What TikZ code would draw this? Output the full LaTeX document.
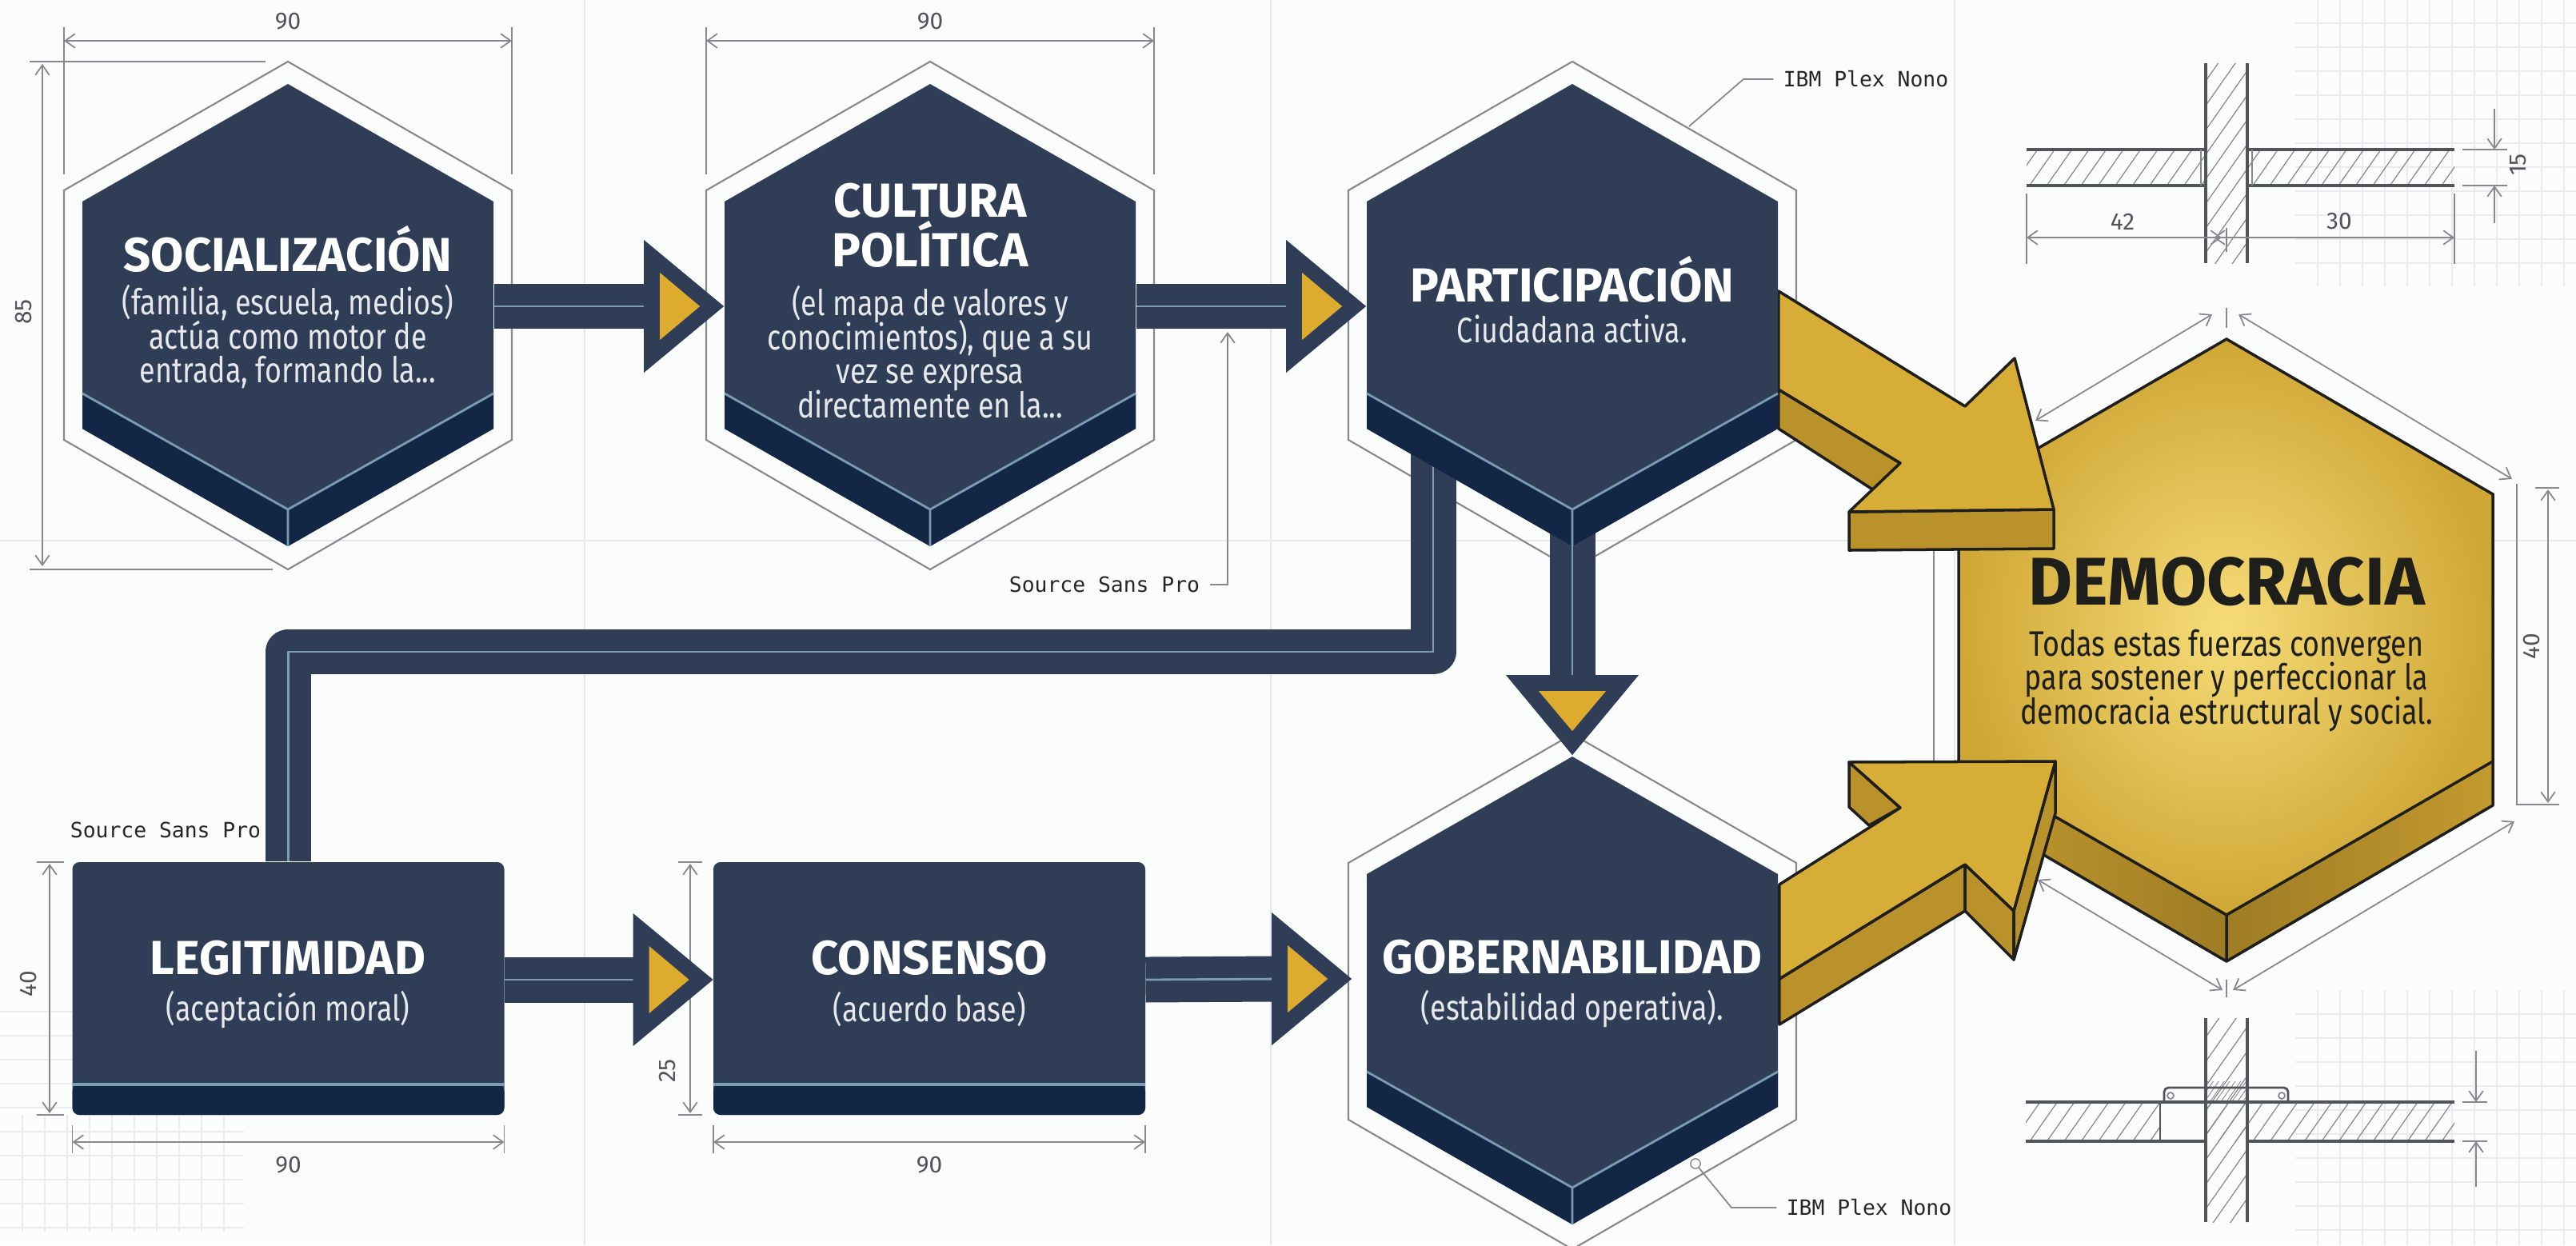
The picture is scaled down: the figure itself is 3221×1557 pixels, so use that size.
\documentclass[tikz,border=0pt]{standalone}
\usepackage{fontspec}
\setmainfont{Fira Sans}
\newfontfamily\headfont{Fira Sans}
\newfontfamily\bodyfont[FakeStretch=0.81]{Fira Sans}
\setmonofont{DejaVu Sans Mono}
\usetikzlibrary{calc,arrows.meta,patterns.meta}
\definecolor{paper}{HTML}{FBFCFC}
\definecolor{slate}{HTML}{2F3E56}
\definecolor{deepnavy}{HTML}{142645}
\definecolor{coreblue}{HTML}{7B9CB3}
\definecolor{amber}{HTML}{D6AD37}
\definecolor{amberglow}{HTML}{F6DC78}
\definecolor{amberrim}{HTML}{CFA735}
\definecolor{ambertip}{HTML}{DDAB2E}
\definecolor{amberside}{HTML}{BA922B}
\definecolor{inkline}{HTML}{1E1E1A}
\definecolor{dimgrey}{HTML}{85898D}
\definecolor{gridgrey}{HTML}{E9ECEE}
\definecolor{rulegrey}{HTML}{E6E8EA}
\definecolor{partgrey}{HTML}{50555A}
\newcommand{\tightlines}{\setlength{\lineskiplimit}{-10pt}}
\begin{document}
\begin{tikzpicture}[%
        x=0.01cm, y=-0.01cm,
        hexbox/.style={inner sep=0pt, minimum width=5.14cm, minimum height=5.56cm},
        slabbox/.style={inner sep=0pt, minimum width=5.39cm, minimum height=2.94cm},
        shaft/.style={draw=slate, line width=16.2pt},
        core/.style={draw=coreblue, line width=0.8pt},
        hexoutline/.style={draw=dimgrey, line width=0.6pt},
        dimline/.style={draw=dimgrey, line width=0.5pt, {Straight Barb[length=3.5pt,width=5pt]}-{Straight Barb[length=3.5pt,width=5pt]}},
        dimtick/.style={draw=dimgrey, line width=0.5pt},
        dimlabel/.style={text=partgrey, font=\fontsize{8.5}{10}\selectfont},
        notelabel/.style={text=black!85, font=\ttfamily\fontsize{7.5}{9}\selectfont},
        titletext/.style={text=white, font=\headfont\bfseries\fontsize{17}{17}\selectfont, align=center},
        subtext/.style={text=white!88!slate, font=\bodyfont\fontsize{12.6}{12.1}\selectfont\tightlines, align=center},
        goldface/.style={fill=amber, draw=inkline, line width=1pt, line join=round},
        goldside/.style={fill=amberside, draw=inkline, line width=1pt, line join=round},
        partline/.style={draw=partgrey, line width=1.1pt},
        hatched/.style={pattern={Lines[angle=55,distance=5pt,line width=0.35pt]}, pattern color=dimgrey},
        hexedge/.pic={
            \draw[hexoutline] (0,-306) -- (280,-145) -- (280,{167+#1}) -- (0,{329+#1}) -- (-280,{167+#1}) -- (-280,-145) -- cycle;
        },
        hexface/.pic={
            \fill[slate] (0,-278) -- (257,-131) -- (257,{153+#1}) -- (0,{300+#1}) -- (-257,{153+#1}) -- (-257,-131) -- cycle;
            \fill[deepnavy] (-257,{109+#1}) -- (0,{254+#1}) -- (257,{109+#1}) -- (257,{153+#1}) -- (0,{300+#1}) -- (-257,{153+#1}) -- cycle;
            \draw[core] (-257,{109+#1}) -- (0,{254+#1}) -- (257,{109+#1}) (0,{254+#1}) -- (0,{300+#1});
        },
        slabface/.pic={
            \fill[slate, rounded corners=2.5pt] (-270,-147) rectangle (270,169);
            \fill[deepnavy, rounded corners=2.5pt] (-270,131) rectangle (270,169);
            \draw[core, line width=1pt] (-270,131) -- (270,131);
        },
        headtip/.pic={
            \fill[slate] (-100,-83) -- (0,0) -- (-100,83) -- cycle;
            \fill[ambertip] (-80,-42) -- (-30,0) -- (-80,42) -- cycle;
        }
    ]
    \clip (0,0) rectangle (3221,1557);
    \fill[paper] (0,0) rectangle (3221,1557);

    % faint sheet rules
    \foreach \x in {731,1589,2444}
        \draw[rulegrey, line width=0.6pt] (\x,0) -- (\x,1557);
    \draw[rulegrey, line width=0.6pt] (0,676) -- (3221,676);
    \foreach \x in {2898,2926,...,3221} {
        \draw[gridgrey, line width=0.4pt] (\x,0) -- (\x,358);
        \draw[gridgrey, line width=0.4pt] (\x,1238) -- (\x,1557);
    }
    \foreach \y in {29,59,...,358}
        \draw[gridgrey, line width=0.4pt] (2870,\y) -- (3221,\y);
    \foreach \y in {1268,1298,...,1557}
        \draw[gridgrey, line width=0.4pt] (2870,\y) -- (3221,\y);
    \foreach \x in {28,56,...,305}
        \draw[gridgrey, line width=0.4pt] (\x,1394) -- (\x,1540);
    \foreach \y in {1265,1295,...,1540}
        \draw[gridgrey, line width=0.4pt] (0,\y) -- (305,\y);

    % blocks, only their places for now
    \node[hexbox] (soc) at (360,383) {};
    \node[hexbox] (cul) at (1163,383) {};
    \node[hexbox] (par) at (1966,383) {};
    \node[hexbox, minimum width=5.16cm, minimum height=5.58cm] (gob) at (1966,1224) {};
    \node[slabbox] (leg) at (360.5,1225) {};
    \node[slabbox] (cons) at (1162,1225) {};
    \coordinate (elbowtop) at (1792,560);
    \coordinate (elbowturn) at (1792,815);

    \pic at (soc) {hexedge=0};
    \pic at (cul) {hexedge=0};
    \pic at (par) {hexedge=0};
    \pic at (gob) {hexedge=9};

    % dimensions of the upper row
    \foreach \c in {soc,cul} {
        \draw[dimtick] ($(\c)+(-280,-349)$) -- ($(\c)+(-280,-165)$);
        \draw[dimtick] ($(\c)+(280,-349)$) -- ($(\c)+(280,-165)$);
        \draw[dimline] ($(\c)+(-280,-332)$) -- ($(\c)+(280,-332)$);
        \node[dimlabel] (dim\c) at ($(\c)+(0,-356)$) {90};
    }
    \draw[dimtick, line width=0.8pt] (37,77) -- (332,77);
    \draw[dimtick, line width=0.8pt] (37,712) -- (341,712);
    \draw[dimline] (53,80) -- (53,708);
    \node[dimlabel, rotate=90] (dimsocv) at (30,390) {85};

    % dimensions of the lower row
    \foreach \c in {leg,cons} {
        \draw[dimtick] ($(\c)+(-270,182)$) -- ($(\c)+(-270,217)$);
        \draw[dimtick] ($(\c)+(270,182)$) -- ($(\c)+(270,217)$);
        \draw[dimline] ($(\c)+(-270,203)$) -- ($(\c)+(270,203)$);
        \node[dimlabel] (dimb\c) at ($(\c)+(0,232)$) {90};
    }
    \draw[dimtick, line width=0.8pt] (46,1078) -- (80,1078) (46,1394) -- (80,1394);
    \draw[dimline] (62,1080) -- (62,1392);
    \node[dimlabel, rotate=90] (dimlegv) at (36,1230) {40};
    \draw[dimtick, line width=0.8pt] (848,1078) -- (878,1078) (848,1394) -- (878,1394);
    \draw[dimline] (863,1080) -- (863,1392);
    \node[dimlabel, rotate=90] (dimconsv) at (835,1339) {25};

    % connectors
    \foreach \a/\b in {soc/cul,cul/par,leg/cons} {
        \draw[shaft] (\a.east) -- ($(\b.west)+(-98,0)$);
        \draw[core] (\a.east) -- ($(\b.west)+(-80,0)$);
        \pic at (\b.west) {headtip};
    }
    \draw[shaft] (cons.east) -- ($(gob.west)+(-115,0)$);
    \draw[core] (cons.east) -- ($(gob.west)+(-97,0)$);
    \pic at ($(gob.west)+(-17,0)$) {headtip};
    \draw[shaft] (par.south) -- ($(gob.north)+(0,-100)$);
    \draw[core] (par.south) -- ($(gob.north)+(0,-80)$);
    \pic[rotate=-90] at (gob.north) {headtip};
    \draw[shaft, line join=round] (elbowtop) -- (elbowturn) -| (leg.north);
    \draw[core] (elbowtop) -- (elbowturn) -| (leg.north);

    % democracy block
    \shade[left color=amberside!70!amber, right color=amberside!85!black] (2449,952) -- (2784,1144) -- (2784,1202) -- (2449,1007) -- cycle;
    \shade[left color=amberside!85!black, right color=amberside!70!amber] (3117,952) -- (2784,1144) -- (2784,1202) -- (3117,1007) -- cycle;
    \draw[inkline, line width=1pt, line join=round] (2449,1007) -- (2784,1202) -- (3117,1007) -- (3117,952) (2784,1144) -- (2784,1202);
    \draw[inkline, line width=1pt, shade, inner color=amberglow, outer color=amberrim]
        (2784,424) -- (3117,618) -- (3117,952) -- (2784,1144) -- (2449,952) -- (2449,618) -- cycle;
    \draw[hexoutline] (2418,620) -- (2418,1000);
    \draw[dimline] (2545,526) -- (2766,393);
    \draw[dimline] (2799,393) -- (3141,599);
    \draw[dimline] (2548,1100) -- (2779,1238);
    \draw[dimline] (2792,1238) -- (3144,1027);
    \draw[dimtick] (2784,385) -- (2784,410) (2784,1225) -- (2784,1247);
    \draw[dimtick] (3147,605) -- (3147,1006) -- (3200,1006) (3170,610) -- (3200,610);
    \draw[dimline] (3186,612) -- (3186,1004);
    \node[dimlabel, rotate=90] (dimdemv) at (3165,808) {40};

    % gold arrows
    \draw[goldside] ($(par.east)+(0,104)$) -- (2376,579) -- (2343,613) -- ($(par.east)+(0,153)$) -- cycle;
    \draw[goldside] (2312,640) -- (2568,637) -- (2568,686) -- (2312,688) -- cycle;
    \draw[goldface] ($(par.east)+(0,-19)$) -- (2457,508) -- (2519,448) -- (2568,637) -- (2312,640) -- (2376,579) -- ($(par.east)+(0,104)$) -- cycle;

    \draw[goldside] (2312,953) -- (2312,1009) -- (2337,1032) -- (2376,1010) -- cycle;
    \draw[goldside] (gob.east) -- (2457,1081) -- (2457,1139) -- ($(gob.east)+(0,57)$) -- cycle;
    \draw[goldside] (2457,1081) -- (2518,1139) -- (2518,1200) -- (2457,1139) -- cycle;
    \draw[goldside] (2570,952) -- (2570,1017) -- (2518,1200) -- (2518,1139) -- cycle;
    \draw[goldface] ($(gob.east)+(0,-118)$) -- (2337,1035) -- (2376,1010) -- (2312,953) -- (2570,952) -- (2518,1139) -- (2457,1081) -- (gob.east) -- cycle;

    % faces on top of the connectors
    \pic at (soc) {hexface=0};
    \pic at (cul) {hexface=0};
    \pic at (par) {hexface=0};
    \pic at (gob) {hexface=7};
    \pic at (leg) {slabface};
    \pic at (cons) {slabface};

    % texts
    \node[titletext] (soctitle) at (360,311) {SOCIALIZACIÓN};
    \node[subtext] (socsub) at (360,421) {(familia, escuela, medios)\\actúa como motor de\\entrada, formando la...};
    \node[titletext, font=\headfont\bfseries\fontsize{17}{17.5}\selectfont] (cultitle) at (1163,282) {CULTURA\\POLÍTICA};
    \node[subtext] (culsub) at (1163,440) {(el mapa de valores y\\conocimientos), que a su\\vez se expresa\\directamente en la...};
    \node[titletext] (partitle) at (1966,349) {PARTICIPACIÓN};
    \node[subtext] (parsub) at (1966,411) {Ciudadana activa.};
    \node[titletext] (legtitle) at (360,1198) {LEGITIMIDAD};
    \node[subtext] (legsub) at (360,1262) {(aceptación moral)};
    \node[titletext] (constitle) at (1162,1198) {CONSENSO};
    \node[subtext] (conssub) at (1162,1262) {(acuerdo base)};
    \node[titletext] (gobtitle) at (1966,1197) {GOBERNABILIDAD};
    \node[subtext] (gobsub) at (1966,1261) {(estabilidad operativa).};
    \node[titletext, text=inkline, font=\headfont\bfseries\fontsize{24}{26}\selectfont] (demtitle) at (2784,727) {DEMOCRACIA};
    \node[subtext, text=inkline] (demsub) at (2784,851) {Todas estas fuerzas convergen\\para sostener y perfeccionar la\\democracia estructural y social.};

    % notes
    \node[notelabel] (notetop) at (2333,99) {IBM Plex Nono};
    \draw[dimtick] (notetop.west) -- (2180,99) -- (2112,158);
    \node[notelabel] (notebot) at (2337,1510) {IBM Plex Nono};
    \node[draw=dimgrey, circle, inner sep=0pt, minimum size=3.5pt] (notedot) at (2120,1455) {};
    \draw[dimtick] (notebot.west) -- (2165,1510) -- (notedot);
    \node[notelabel] (notemid) at (1381,731) {Source Sans Pro};
    \draw[dimtick, -{Straight Barb[length=3.5pt,width=5pt]}] (notemid.east) -- (1535,731) -- (1535,415);
    \node[notelabel] (noteleft) at (207,1038) {Source Sans Pro};

    % section details, upper
    \path[hatched] (2758,79) rectangle (2810,329);
    \path[hatched] (2534,187) rectangle (2758,232);
    \path[hatched] (2810,187) rectangle (3069,232);
    \draw[partline] (2758,79) -- (2758,329) (2810,79) -- (2810,329);
    \draw[partline] (2534,187) -- (2758,187) (2534,232) -- (2758,232);
    \draw[partline] (2810,187) -- (3069,187) (2810,232) -- (3069,232);
    \draw[dimtick] (2752,187) -- (2752,232) (2816,187) -- (2816,232);
    \draw[dimtick] (2534,242) -- (2534,330) (3069,242) -- (3069,330);
    \draw[dimline] (2534,297) -- (3069,297);
    \draw[dimline] (2768,297) -- (2778,297);
    \draw[dimtick] (2784,285) -- (2784,315);
    \node[dimlabel] (dim42) at (2654,277) {42};
    \node[dimlabel] (dim30) at (2925,277) {30};
    \draw[dimtick, line width=0.8pt] (3079,187) -- (3135,187) (3079,232) -- (3135,232);
    \draw[dimtick, -{Straight Barb[length=3.5pt,width=5pt]}] (3119,136) -- (3119,187);
    \draw[dimtick, -{Straight Barb[length=3.5pt,width=5pt]}] (3119,279) -- (3119,232);
    \node[dimlabel, rotate=90] (dim15) at (3149,206) {15};

    % section details, lower
    \path[hatched] (2758,1273) rectangle (2810,1528);
    \path[hatched] (2533,1378) rectangle (2701,1427);
    \path[hatched] (2758,1378) rectangle (3069,1427);
    \path[pattern={Lines[angle=55,distance=1.6pt,line width=0.25pt]}, pattern color=dimgrey] (2758,1352) rectangle (2810,1378);
    \draw[partline, line width=0.8pt, rounded corners=1.5pt] (2706,1378) -- (2706,1360) -- (2861,1360) -- (2861,1378);
    \draw[dimtick] (2714,1370) circle (4) (2853,1370) circle (4);
    \draw[partline] (2758,1273) -- (2758,1528) (2810,1273) -- (2810,1528);
    \draw[partline] (2533,1378) -- (3069,1378);
    \draw[partline] (2533,1427) -- (2758,1427) (2810,1427) -- (3069,1427);
    \draw[partline, line width=0.8pt] (2701,1378) -- (2701,1427);
    \draw[dimtick, line width=0.8pt] (3079,1378) -- (3110,1378) (3079,1427) -- (3110,1427);
    \draw[dimtick, -{Straight Barb[length=3.5pt,width=5pt]}] (3096,1314) -- (3096,1378);
    \draw[dimtick, -{Straight Barb[length=3.5pt,width=5pt]}] (3096,1484) -- (3096,1427);
\end{tikzpicture}
\end{document}
